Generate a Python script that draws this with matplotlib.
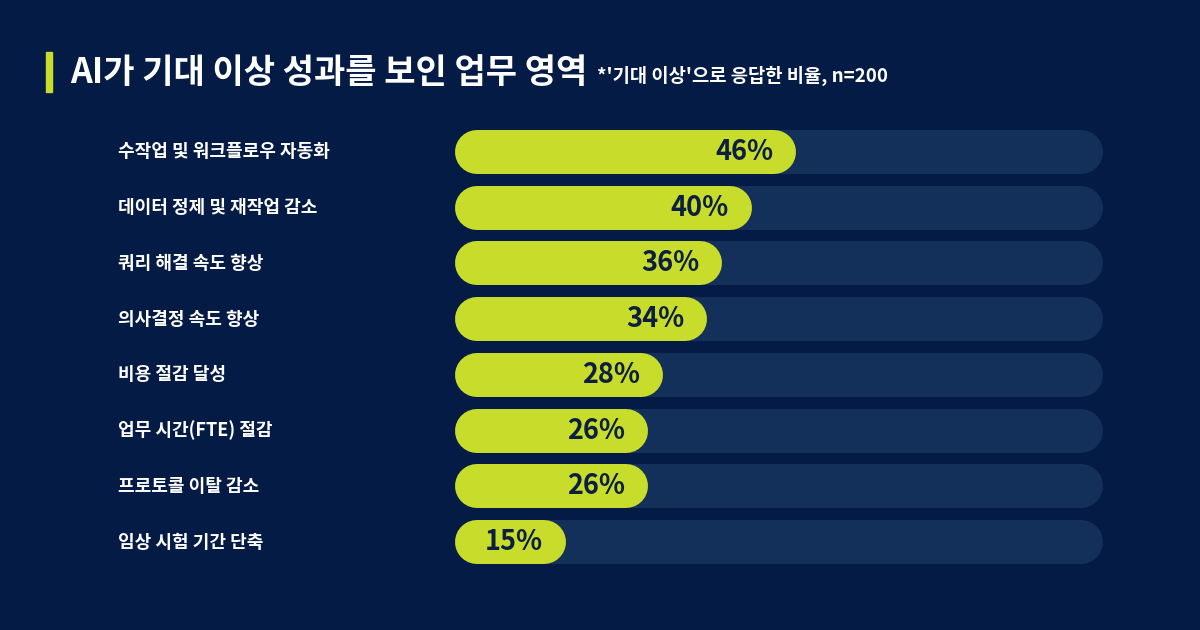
import matplotlib
matplotlib.use("Agg")
import matplotlib.pyplot as plt
from matplotlib.transforms import blended_transform_factory

plt.rcParams['font.family'] = ['Noto Sans CJK KR', 'DejaVu Sans']

# 데이터
categories = ['수작업 및 워크플로우 자동화', '데이터 정제 및 재작업 감소', '쿼리 해결 속도 향상',
              '의사결정 속도 향상', '비용 절감 달성', '업무 시간(FTE) 절감',
              '프로토콜 이탈 감소', '임상 시험 기간 단축']
values = [46, 40, 36, 34, 28, 26, 26, 15]
title = 'AI가 기대 이상 성과를 보인 업무 영역'
subtitle = "*'기대 이상'으로 응답한 비율, n=200"

bg = '#041b45'
track_c = '#13305a'
lime = '#c8dc2b'
navy_txt = '#0c1f42'

W, H = 1200, 630
fig = plt.figure(figsize=(W / 100, H / 100), dpi=100, facecolor=bg)

# 막대 영역 (픽셀 기준 위치)
left, right, top, bottom = 455, 1103, 124, 570
ax = fig.add_axes([left / W, 1 - bottom / H, (right - left) / W, (bottom - top) / H])
ax.set_facecolor(bg)
xmax = 87.3
ax.set_xlim(0, xmax)
ax.set_ylim(len(values) - 0.5, -0.5)
ax.axis('off')

bar_px = 44
lw = bar_px * 72 / 100
cap = (bar_px / 2) * xmax / (right - left)   # 둥근 끝 길이 (데이터 단위)

for i, v in enumerate(values):
    ax.plot([cap, xmax - cap], [i, i], color=track_c, lw=lw, solid_capstyle='round', zorder=1)
    ax.plot([cap, v - cap], [i, i], color=lime, lw=lw, solid_capstyle='round', zorder=2)
    ax.text(v - 3.1, i, f'{v}%', ha='right', va='center', fontsize=19.5,
            fontweight='bold', color=navy_txt, zorder=3)

tr = blended_transform_factory(fig.transFigure, ax.transData)
for i, c in enumerate(categories):
    ax.text(118 / W, i, c, transform=tr, ha='left', va='center', fontsize=13,
            fontweight='bold', color='white')

# 제목
fig.patches.append(plt.Rectangle((46 / W, 1 - 92 / H), 6 / W, 40 / H,
                                 transform=fig.transFigure, color=lime))
fig.text(70 / W, 1 - 72 / H, title, ha='left', va='center', fontsize=24.5,
         fontweight='bold', color='white')
fig.text(597 / W, 1 - 76 / H, subtitle, ha='left', va='center', fontsize=13.5,
         fontweight='bold', color='white')

fig.savefig('out.png', dpi=100, facecolor=bg)
